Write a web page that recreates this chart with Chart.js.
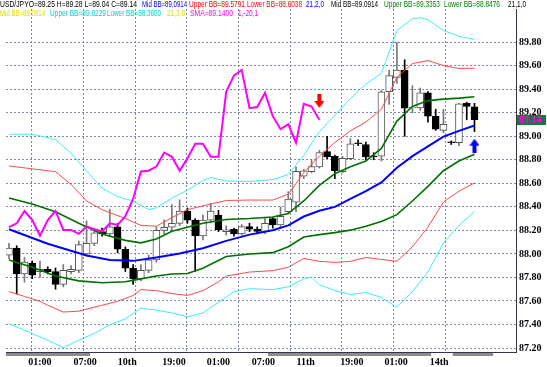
<!DOCTYPE html>
<html><head><meta charset="utf-8">
<script src="https://cdn.jsdelivr.net/npm/chart.js@4.4.1/dist/chart.umd.min.js"></script>
<style>html,body{margin:0;padding:0;background:#fff;overflow:hidden}canvas{display:block}</style>
</head><body>
<canvas id="c" width="547" height="367"></canvas>
<script>
// ---------------- data ----------------
const symbolName = 'USD/JPY';
const opens  = [87.99,88.05,87.83,87.92,87.85,87.87,87.85,87.74,87.85,87.86,
                88.00,88.09,88.19,88.17,88.23,88.04,87.88,87.79,87.86,87.95,
                88.20,88.227,88.26,88.365,88.287,88.154,88.287,88.33,88.19,88.21,
                88.171,88.232,88.21,88.191,88.30,88.246,88.36,88.44,88.66,88.70,
                88.74,88.87,88.83,88.70,88.81,88.94,88.93,88.83,88.83,89.378,
                89.50,89.56,89.24,89.24,89.37,89.17,89.05,88.95,88.945,89.28,89.25];
const highs  = [88.09,88.07,87.97,87.94,87.94,87.89,87.88,87.91,87.90,88.11,
                88.28,88.21,88.22,88.38,88.26,88.06,87.91,87.91,87.99,88.23,
                88.29,88.42,88.46,88.39,88.30,88.33,88.43,88.37,88.24,88.22,
                88.25,88.26,88.23,88.31,88.31,88.40,88.53,88.74,88.72,88.80,
                88.88,89.00,88.84,88.83,88.98,88.97,88.95,88.86,89.39,89.56,
                89.80,89.65,89.43,89.41,89.38,89.23,89.23,88.96,89.28,89.29,89.28];
const lows   = [87.96,87.66,87.76,87.79,87.80,87.83,87.70,87.72,87.83,87.84,
                87.98,88.07,88.15,88.15,88.01,87.85,87.74,87.77,87.84,87.93,
                88.17,88.20,88.24,88.26,87.85,88.12,88.27,88.19,88.16,88.15,
                88.16,88.19,88.17,88.17,88.22,88.22,88.34,88.36,88.64,88.69,
                88.73,88.81,88.64,88.69,88.80,88.92,88.80,88.80,88.79,89.27,
                89.45,89.00,89.20,89.22,89.12,89.05,89.03,88.93,88.92,89.14,89.04];
const closes = [88.05,87.83,87.93,87.82,87.87,87.85,87.74,87.86,87.87,88.08,
                88.09,88.18,88.17,88.23,88.04,87.88,87.79,87.86,87.95,88.20,
                88.227,88.260,88.365,88.287,88.154,88.287,88.365,88.204,88.204,88.171,
                88.232,88.210,88.191,88.260,88.246,88.320,88.467,88.701,88.707,88.742,
                88.862,88.825,88.707,88.812,88.936,88.936,88.825,88.825,89.378,89.516,
                89.563,89.239,89.248,89.369,89.171,89.060,89.102,88.945,89.276,89.253,89.14];

// SMA(1) shifted -20 bars (magenta)
const smaShiftBars = [0,1,2,3,4,5,6,7,8,9,10,11,12,13,14,15,16,17,18,19,20,21,22,23,24,25,26,27,28,29,30,31,32,33,34,35,36,37,38,39,40];
const smaShift = [88.227,88.260,88.365,88.287,88.154,88.287,88.365,88.204,88.204,88.171,
                  88.232,88.210,88.191,88.260,88.246,88.320,88.467,88.701,88.707,88.742,
                  88.862,88.825,88.707,88.812,88.936,88.936,88.825,88.825,89.378,89.516,
                  89.563,89.239,89.248,89.369,89.171,89.060,89.102,88.945,89.276,89.253,89.14];

// Bollinger mid (blue)
const midBBBars = [0,5,10,13,16,19,22,25,28,31,34,36,38,40,42,44,46,48,50,52,54,56,58,60];
const midBB = [88.210,88.086,87.986,87.949,87.941,87.970,88.003,88.049,88.111,88.164,88.202,88.243,
               88.318,88.367,88.400,88.467,88.533,88.608,88.732,88.831,88.914,88.997,89.046,89.0914];
// 1-sigma bands (green)
const bb1Bars = [0,3,6,9,12,15,17,19,21,23,25,28,31,34,36,38,40,42,44,46,48,50,52,54,56,58,60];
const bb1Upper = [88.475,88.425,88.359,88.260,88.169,88.115,88.094,88.127,88.193,88.227,88.260,88.293,88.301,
                  88.314,88.343,88.450,88.583,88.682,88.740,88.790,88.897,89.129,89.253,89.303,89.316,89.324,89.3353];
const bb1Lower = [87.949,87.887,87.812,87.771,87.755,87.763,87.788,87.812,87.829,87.833,87.879,87.978,87.999,
                  88.011,88.061,88.144,88.164,88.181,88.202,88.235,88.276,88.334,88.450,88.574,88.707,88.790,88.8476];
// 2-sigma bands (red)
const bb2UpperBars = [0,3,6,8,10,12,15,17,19,21,23,25,28,31,34,36,38,40,42,44,46,48,50,52,54,56,58,60];
const bb2Upper = [88.748,88.723,88.699,88.591,88.450,88.376,88.301,88.243,88.235,88.309,88.376,88.409,88.454,88.458,
                  88.458,88.508,88.690,88.831,88.947,89.046,89.121,89.229,89.502,89.618,89.643,89.601,89.576,89.5791];
const bb2LowerBars = [0,2,4,5,7,9,12,14,16,17,19,21,23,25,27,28,31,34,36,38,40,42,44,46,48,50,52,54,56,58,60];
const bb2Lower = [87.680,87.639,87.597,87.564,87.506,87.514,87.564,87.597,87.647,87.697,87.688,87.663,87.647,87.688,87.763,
                  87.812,87.846,87.858,87.887,87.962,87.937,87.928,87.937,87.970,87.953,87.937,88.061,88.227,88.442,88.533,88.6038];
// 3-sigma bands (cyan)
const bb3UpperBars = [0,3,6,8,10,12,14,16,18,19,21,23,25,26,28,31,34,36,38,40,42,44,46,48,50,52,53,54,56,58,60];
const bb3Upper = [89.017,89.017,88.972,88.856,88.707,88.558,88.487,88.450,88.376,88.392,88.475,88.541,88.624,88.649,88.620,
                  88.616,88.632,88.674,88.839,89.038,89.179,89.320,89.444,89.535,89.899,89.999,90.007,89.991,89.899,89.850,89.8229];
const bb3LowerBars = [0,3,5,7,9,11,13,15,17,19,21,23,25,27,29,31,34,36,38,39,40,42,44,46,48,50,52,54,56,58,60];
const bb3Lower = [87.407,87.324,87.266,87.204,87.266,87.324,87.398,87.448,87.539,87.523,87.498,87.465,87.498,87.589,87.680,
                  87.705,87.697,87.721,87.788,87.804,87.738,87.688,87.655,87.672,87.630,87.547,87.680,87.846,88.094,88.243,88.3600];

// signal arrows
const sellArrowBars = [40];
const sellArrowPrices = [89.30];
const buyArrowBars = [60];
const buyArrowPrices = [88.92];

// axis labels
const priceTicks = [87.2,87.4,87.6,87.8,88.0,88.2,88.4,88.6,88.8,89.0,89.2,89.4,89.6,89.8];
const timeLabels = ['01:00','07:00','10th','19:00','01:00','07:00','11th','19:00','01:00','14th'];
const timeLabelBars = [3.99,9.81,15.25,21.27,27.0,32.8,38.25,44.2,49.9,55.45];
const gridBars = [2.93,9.59,16.25,22.92,29.58,36.24,42.90,49.56,56.23];
const underAxisSpans = [[-0.4,10.45],[33.4,54.4],[57.2,62.4]];

// ---------------- chart ----------------
const X_MIN = -0.382, X_MAX = 65.35, Y_MIN = 87.1665, Y_MAX = 90.0816;
const bars = opens.map((_, i) => i);
const isBull = i => closes[i] >= opens[i];
const pts = (xs, ys) => xs.map((x, k) => ({x: x, y: ys[k]}));

function arrowCanvas(color, down) {
  const c = document.createElement('canvas');
  c.width = 10; c.height = 14;
  const g = c.getContext('2d');
  g.fillStyle = color;
  if (down) {
    g.fillRect(3, 0, 4, 7);
    g.beginPath(); g.moveTo(0, 7); g.lineTo(10, 7); g.lineTo(5, 14); g.closePath(); g.fill();
  } else {
    g.beginPath(); g.moveTo(5, 0); g.lineTo(10, 7); g.lineTo(0, 7); g.closePath(); g.fill();
    g.fillRect(3, 7, 4, 7);
  }
  return c;
}

const lineDs = (data, color, width, order) => ({
  type: 'line', data, borderColor: color, borderWidth: width, pointRadius: 0,
  tension: 0, fill: false, order, xAxisID: 'x', yAxisID: 'y'
});

const last = closes.length - 1;
const f4 = v => v.toFixed(4);
const headerRows = [
  [
    [`${symbolName}O=${opens[last].toFixed(2)} H=${highs[last].toFixed(2)} L=${lows[last].toFixed(2)} C=${closes[last].toFixed(2)}`, '#000000', 0, 137],
    [`Mid BB=${f4(midBB[midBB.length-1])}`, '#0000ff', 142, 45],
    [`Upper BB=${f4(bb2Upper[bb2Upper.length-1])}`, '#ff0000', 189, 56],
    [`Lower BB=${f4(bb2Lower[bb2Lower.length-1])}`, '#ff0000', 247, 55],
    ['21,2,0', '#0000ff', 306, 18],
    [`Mid BB=${f4(midBB[midBB.length-1])}`, '#000000', 331, 47],
    [`Upper BB=${f4(bb1Upper[bb1Upper.length-1])}`, '#008000', 384, 56],
    [`Lower BB=${f4(bb1Lower[bb1Lower.length-1])}`, '#008000', 444, 56],
    ['21,1,0', '#000000', 508, 18]
  ],
  [
    [`Mid BB=${f4(midBB[midBB.length-1])}`, '#e0e000', 0, 45],
    [`Upper BB=${f4(bb3Upper[bb3Upper.length-1])}`, '#00d0d0', 50, 56],
    [`Lower BB=${f4(bb3Lower[bb3Lower.length-1])}`, '#00d0d0', 107, 54],
    ['21,3,0', '#e0e000', 167, 18],
    [`SMA=${f4(smaShift[smaShift.length-1])}`, '#ff00ff', 190, 43],
    ['1,-20,1', '#ff00ff', 238, 20]
  ]
];

const decorPlugin = {
  id: 'decor',
  beforeDraw(chart) {
    const ctx = chart.ctx;
    ctx.save(); ctx.fillStyle = '#ffffff'; ctx.fillRect(0, 0, chart.width, chart.height); ctx.restore();
  },
  afterDraw(chart) {
    const ctx = chart.ctx, xs = chart.scales.x, ys = chart.scales.y, area = chart.chartArea;
    ctx.save();
    // gray spans under the time axis
    ctx.fillStyle = '#8c8c8c';
    underAxisSpans.forEach(([a, b]) => {
      const x1 = Math.max(0, xs.getPixelForValue(a)), x2 = Math.min(area.right, xs.getPixelForValue(b));
      ctx.fillRect(x1, area.bottom + 1, x2 - x1, 3);
    });
    // current price marker on the price axis
    const py = Math.round(ys.getPixelForValue(closes[last]));
    ctx.fillStyle = '#117a3c';
    ctx.fillRect(area.right + 1, py - 5, 29, 10);
    ctx.fillStyle = '#ff00ff';
    ctx.font = 'bold 10px "Liberation Serif", serif';
    ctx.textBaseline = 'middle';
    ctx.fillText(closes[last].toFixed(2), area.right + 3, py + 0.5);
    // header
    ctx.font = '8.5px "Liberation Sans", Arial, sans-serif';
    ctx.textBaseline = 'middle';
    ctx.textAlign = 'left';
    headerRows.forEach((row, r) => {
      row.forEach(([t, col, x, w]) => { ctx.fillStyle = col; ctx.fillText(t, x, r === 0 ? 5 : 14, w); });
    });
    ctx.restore();
  }
};

const axisFont = {family: '"Liberation Serif", serif', size: 10, weight: 'bold'};
const gridColor = '#8088a8';

new Chart(document.getElementById('c'), {
  type: 'bar',
  data: {
    datasets: [
      { type: 'line', data: pts(sellArrowBars, sellArrowPrices), showLine: false, pointStyle: arrowCanvas('#ff0000', true), pointRadius: 5, order: 0 },
      { type: 'line', data: pts(buyArrowBars, buyArrowPrices), showLine: false, pointStyle: arrowCanvas('#0000ff', false), pointRadius: 5, order: 0 },
      lineDs(pts(smaShiftBars, smaShift), '#ff00ff', 2, 1),
      lineDs(pts(midBBBars, midBB), '#0000ff', 2, 2),
      lineDs(pts(bb1Bars, bb1Upper), '#007000', 1.6, 3),
      lineDs(pts(bb1Bars, bb1Lower), '#007000', 1.6, 3),
      lineDs(pts(bb2UpperBars, bb2Upper), '#ff4a4a', 1, 4),
      lineDs(pts(bb2LowerBars, bb2Lower), '#ff4a4a', 1, 4),
      lineDs(pts(bb3UpperBars, bb3Upper), '#3cf0f0', 1, 5),
      lineDs(pts(bb3LowerBars, bb3Lower), '#3cf0f0', 1, 5),
      { type: 'bar', data: bars.map(i => ({x: i, y: [opens[i], closes[i]]})), barThickness: 7, grouped: false,
        backgroundColor: c => isBull(c.dataIndex) ? '#ffffff' : '#000000',
        borderColor: c => isBull(c.dataIndex) ? '#555555' : '#000000',
        borderWidth: 1, borderSkipped: false, minBarLength: 1, order: 10 },
      { type: 'bar', data: bars.map(i => ({x: i, y: [lows[i], highs[i]]})), barThickness: 1, grouped: false,
        backgroundColor: c => isBull(c.dataIndex) ? '#7a7a7a' : '#000000',
        borderWidth: 0, order: 11 }
    ]
  },
  options: {
    responsive: false, animation: false, devicePixelRatio: 1,
    layout: { padding: 0 },
    plugins: { legend: { display: false }, tooltip: { enabled: false } },
    scales: {
      x: {
        type: 'linear', position: 'bottom', weight: 0, min: X_MIN, max: X_MAX, offset: false,
        grid: { color: gridColor, lineWidth: 1, drawTicks: false, offset: false },
        border: { display: true, color: '#3a3048', width: 1, dash: [2, 2] },
        ticks: { display: false },
        afterBuildTicks: s => { s.ticks = gridBars.map(v => ({value: v})); },
        afterFit: s => { s.height = 0; }
      },
      xl: {
        type: 'linear', position: 'bottom', weight: 1, min: X_MIN, max: X_MAX, offset: false,
        grid: { display: false, drawTicks: false }, border: { display: false },
        afterBuildTicks: s => { s.ticks = timeLabelBars.map(v => ({value: v})); },
        ticks: { autoSkip: false, maxRotation: 0, minRotation: 0, padding: 4, font: axisFont, color: '#000',
                 callback: (v, i) => timeLabels[i] },
        afterFit: s => { s.height = 15; }
      },
      y: {
        type: 'linear', position: 'right', min: Y_MIN, max: Y_MAX,
        grid: { color: gridColor, lineWidth: 1, drawTicks: false },
        border: { display: true, color: '#3a3048', width: 1, dash: [2, 2] },
        afterBuildTicks: s => { s.ticks = priceTicks.map(v => ({value: v})); },
        ticks: { padding: 3, font: axisFont, color: '#000', callback: v => v.toFixed(2) },
        afterFit: s => { s.width = 31; }
      }
    }
  },
  plugins: [decorPlugin]
});
</script>
</body></html>
